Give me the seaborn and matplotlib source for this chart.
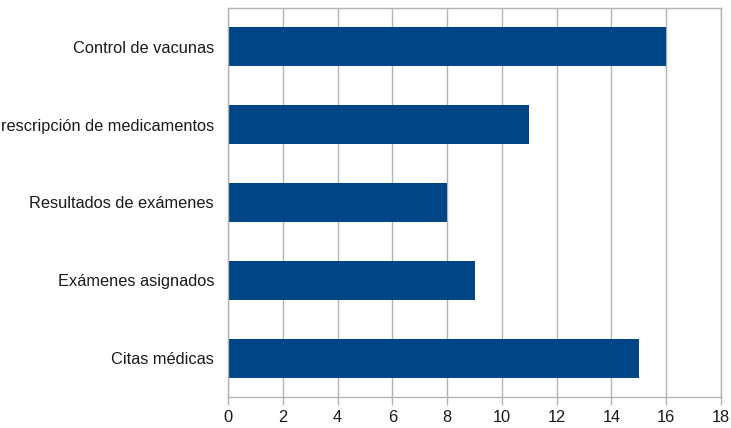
import matplotlib
matplotlib.use("Agg")
import matplotlib.pyplot as plt
import seaborn as sns
import pandas as pd
import numpy as np

categorias = [
    "Control de vacunas",
    "Prescripción de medicamentos",
    "Resultados de exámenes",
    "Exámenes asignados",
    "Citas médicas",
]
valores = [16, 11, 8, 9, 15]
x_ticks = [0, 2, 4, 6, 8, 10, 12, 14, 16, 18]

df = pd.DataFrame({"categoria": categorias, "valor": valores})

sns.set_theme(style="white")
plt.rcParams["font.family"] = ["Liberation Sans", "DejaVu Sans"]

fig = plt.figure(figsize=(7.31, 4.28), dpi=100)
ax = fig.add_axes([228 / 731, 1 - 397 / 428, (721 - 228) / 731, (397 - 8) / 428])

sns.barplot(data=df, x="valor", y="categoria", order=categorias,
            color="#004586", saturation=1, width=0.5, orient="h", ax=ax,
            edgecolor="none")

grid_c = "#b3b3b3"
ax.set_xlim(0, 18)
ax.set_ylim(len(categorias) - 0.5, -0.5)
ax.set_xticks(x_ticks)
ax.set_xticklabels([str(t) for t in x_ticks])
ax.xaxis.grid(True, color=grid_c, linewidth=1)
ax.set_axisbelow(True)

# category labels centred on bars, tick marks at the boundaries
ax.set_yticks(np.arange(len(categorias)))
ax.set_yticklabels(categorias)
ax.tick_params(axis="y", which="major", length=0, pad=10, labelsize=11.8, labelcolor="#1a1a1a")
ax.set_yticks(np.arange(-0.5, len(categorias), 1), minor=True)
ax.tick_params(axis="y", which="minor", length=8, color=grid_c, width=1)
ax.tick_params(axis="x", which="major", length=6, color=grid_c, width=1,
               labelsize=11.8, labelcolor="#1a1a1a", pad=3, bottom=True)

for s in ax.spines.values():
    s.set_color(grid_c)
    s.set_linewidth(1)

ax.set_xlabel("")
ax.set_ylabel("")

fig.savefig("out.png", dpi=100)
